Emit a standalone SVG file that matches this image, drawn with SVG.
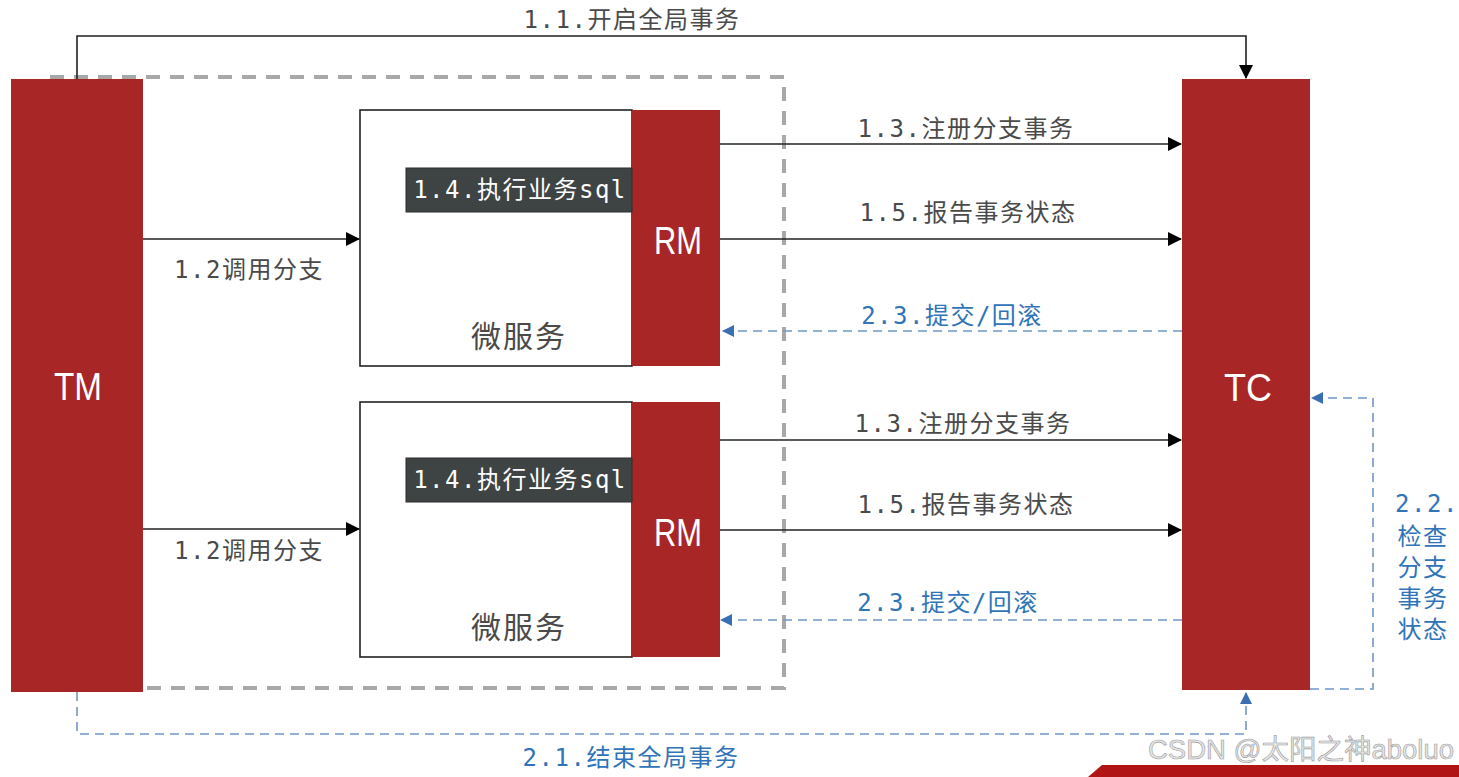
<svg xmlns="http://www.w3.org/2000/svg" width="1459" height="777" viewBox="0 0 1459 777">
<defs>
<style>
.red{fill:#a92626}
.lbl{font-family:"DejaVu Sans Mono","Noto Sans CJK SC",monospace;font-size:24px;letter-spacing:1.5px;fill:#4a4a4a;text-anchor:middle}
.blue{fill:#2f74b8}
.big{font-family:"Liberation Sans","Noto Sans",sans-serif;font-size:38px;fill:#ffffff;text-anchor:middle}
.svc{font-family:"Noto Sans CJK SC",sans-serif;font-size:30px;letter-spacing:2px;fill:#4a4a4a;text-anchor:middle}
.sql{font-family:"DejaVu Sans Mono","Noto Sans CJK SC",monospace;font-size:24px;letter-spacing:1.5px;fill:#ffffff;text-anchor:middle}
.solid{fill:none;stroke:#222;stroke-width:1.6}
.dash{fill:none;stroke:#7096c8;stroke-width:1.6;stroke-dasharray:9 6}
</style>
<marker id="ab" markerWidth="14" markerHeight="14" refX="13" refY="7" orient="auto" markerUnits="userSpaceOnUse">
<path d="M0,0 L14,7 L0,14 Z" fill="#000"/>
</marker>
<marker id="abl" markerWidth="12" markerHeight="12" refX="11" refY="6" orient="auto" markerUnits="userSpaceOnUse">
<path d="M0,0 L12,6 L0,12 Z" fill="#3b6fb3"/>
</marker>
</defs>
<rect width="1459" height="777" fill="#ffffff"/>

<g id="TM">
<rect class="red" x="11" y="79" width="132" height="613"/>
<text class="big" x="78" y="400" textLength="48" lengthAdjust="spacingAndGlyphs">TM</text>
</g>

<g id="boundary">
<path d="M50,77 H784 V688 H143" fill="none" stroke="#a8a8a8" stroke-width="4" stroke-dasharray="14 10"/>
</g>

<g id="ms1">
<rect x="360" y="110" width="272" height="256" fill="#fff" stroke="#222" stroke-width="1.6"/>
<rect class="red" x="632" y="110" width="88" height="256"/>
<text class="big" x="678" y="254" textLength="48" lengthAdjust="spacingAndGlyphs">RM</text>
<rect x="406" y="168" width="226" height="44" fill="#3e4343" stroke="#2a2e2e" stroke-width="1"/>
<text class="sql" x="520" y="198">1.4.执行业务sql</text>
<text class="svc" x="519" y="347">微服务</text>
</g>

<g id="ms2">
<rect x="360" y="402" width="272" height="255" fill="#fff" stroke="#222" stroke-width="1.6"/>
<rect class="red" x="632" y="402" width="88" height="255"/>
<text class="big" x="678" y="546" textLength="48" lengthAdjust="spacingAndGlyphs">RM</text>
<rect x="406" y="458" width="226" height="44" fill="#3e4343" stroke="#2a2e2e" stroke-width="1"/>
<text class="sql" x="520" y="488">1.4.执行业务sql</text>
<text class="svc" x="519" y="638">微服务</text>
</g>

<g id="TC">
<rect class="red" x="1182" y="79" width="128" height="611"/>
<text class="big" x="1248" y="401" textLength="48" lengthAdjust="spacingAndGlyphs">TC</text>
</g>

<g id="connectors">
<path class="solid" d="M77,79 V36 H1246 V78" marker-end="url(#ab)"/>
<text class="lbl" x="632" y="28">1.1.开启全局事务</text>

<path class="solid" d="M143,239 H359" marker-end="url(#ab)"/>
<text class="lbl" x="249" y="278">1.2调用分支</text>
<path class="solid" d="M143,529 H359" marker-end="url(#ab)"/>
<text class="lbl" x="249" y="559">1.2调用分支</text>

<path class="solid" d="M720,144 H1181" marker-end="url(#ab)"/>
<text class="lbl" x="966" y="137">1.3.注册分支事务</text>
<path class="solid" d="M720,239 H1181" marker-end="url(#ab)"/>
<text class="lbl" x="968" y="221">1.5.报告事务状态</text>
<path class="dash" d="M1182,331 H723" marker-end="url(#abl)"/>
<text class="lbl blue" x="952" y="324">2.3.提交/回滚</text>

<path class="solid" d="M720,440 H1181" marker-end="url(#ab)"/>
<text class="lbl" x="963" y="432">1.3.注册分支事务</text>
<path class="solid" d="M720,530 H1181" marker-end="url(#ab)"/>
<text class="lbl" x="966" y="513">1.5.报告事务状态</text>
<path class="dash" d="M1182,620 H721" marker-end="url(#abl)"/>
<text class="lbl blue" x="948" y="611">2.3.提交/回滚</text>

<path class="dash" d="M1310,689 H1373 V398 H1312" marker-end="url(#abl)"/>
<text class="lbl blue" x="1427" y="512">2.2.</text>
<text class="lbl blue" x="1423" y="545">检查</text>
<text class="lbl blue" x="1423" y="576">分支</text>
<text class="lbl blue" x="1423" y="607">事务</text>
<text class="lbl blue" x="1423" y="638">状态</text>

<path class="dash" d="M77,692 V734 H1246 V693" marker-end="url(#abl)"/>
<text class="lbl blue" x="631" y="766">2.1.结束全局事务</text>
</g>

<g id="banner">
<polygon points="1088,777 1102,765 1459,765 1459,777" fill="#b01414"/>
</g>
<text x="1148" y="759" font-family="Liberation Sans,Noto Sans CJK SC,sans-serif" font-size="27" fill="#e6e6e6" stroke="#9c9c9c" stroke-width="0.6" textLength="306" lengthAdjust="spacingAndGlyphs">CSDN @太阳之神aboluo</text>
</svg>
